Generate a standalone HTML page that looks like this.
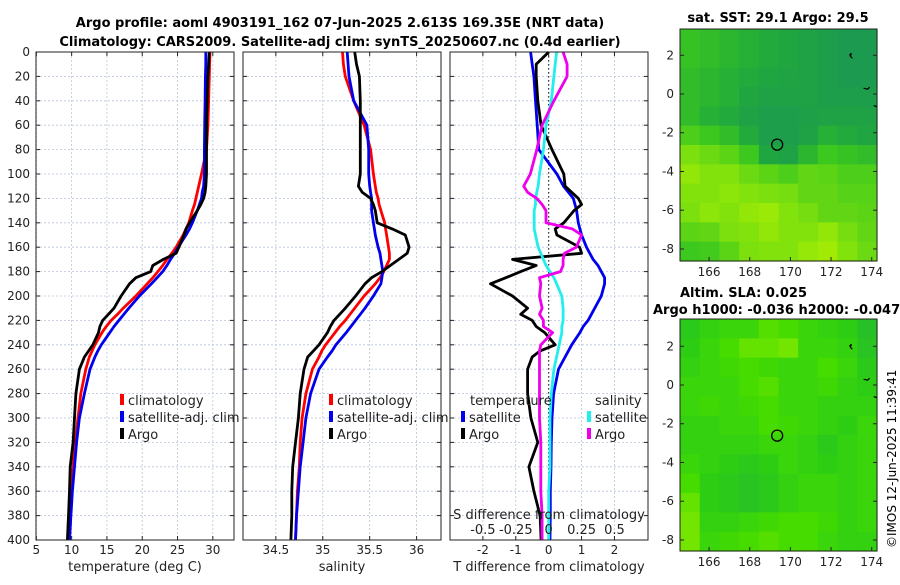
<!DOCTYPE html>
<html><head><meta charset="utf-8"><style>
body{margin:0;background:#fff}
svg{font-family:"DejaVu Sans","Liberation Sans",sans-serif}
</style></head><body>
<svg id="s" width="900" height="580" viewBox="0 0 900 580" xmlns="http://www.w3.org/2000/svg">
<text x="340" y="27" font-size="13" font-weight="bold" text-anchor="middle">Argo profile: aoml 4903191_162 07-Jun-2025 2.613S 169.35E (NRT data)</text>
<text x="340" y="46" font-size="13" font-weight="bold" text-anchor="middle">Climatology: CARS2009. Satellite-adj clim: synTS_20250607.nc (0.4d earlier)</text>
<text x="778" y="22" font-size="13" font-weight="bold" text-anchor="middle">sat. SST: 29.1 Argo: 29.5</text>
<text x="680" y="297" font-size="13" font-weight="bold">Altim. SLA: 0.025</text>
<text x="653" y="314" font-size="13" font-weight="bold">Argo h1000: -0.036 h2000: -0.047</text>
<text x="0" y="0" font-size="12" transform="translate(896,548) rotate(-90)">©IMOS 12-Jun-2025 11:39:41</text>
</svg>
<script>
// depth levels
const depths=[0,10,20,40,60,80,100,110,115,120,125,130,140,145,150,160,165,170,175,180,185,190,200,210,215,220,225,230,240,245,250,260,280,300,320,340,360,380,400];
// panel 1 temperature
const tClim=[29.6,29.55,29.5,29.4,29.3,29.1,28.4,28.0,27.8,27.6,27.4,27.1,26.6,26.2,25.8,24.8,24.2,23.5,22.9,22.2,21.5,20.7,19.1,17.3,16.5,15.6,14.9,14.3,13.3,12.9,12.5,12.0,11.3,10.9,10.5,10.2,10.0,9.85,9.7];
const tSat=[29.0,29.0,28.95,28.9,28.85,28.8,28.8,28.7,28.5,28.4,28.1,27.8,27.1,26.7,26.2,25.1,24.6,24.0,23.5,22.9,22.1,21.3,19.6,18.1,17.4,16.7,16.0,15.4,14.2,13.7,13.3,12.6,11.8,11.1,10.7,10.4,10.1,9.9,9.7];
const tArgo=[29.5,29.4,29.3,29.2,29.1,29.1,29.1,29.0,28.9,28.7,28.3,27.8,26.7,26.2,25.9,25.2,24.8,23.0,21.5,21.2,19.1,18.2,17.0,16.0,15.2,14.4,14.0,13.8,13.0,12.4,11.8,11.1,10.6,10.4,10.2,9.8,9.7,9.55,9.4];
// panel 2 salinity
const sClim=[35.21,35.22,35.24,35.33,35.44,35.51,35.54,35.56,35.57,35.59,35.6,35.62,35.66,35.67,35.68,35.7,35.71,35.71,35.68,35.65,35.61,35.56,35.44,35.34,35.29,35.24,35.18,35.13,35.03,34.99,34.96,34.89,34.82,34.78,34.76,34.75,34.73,34.72,34.71];
const sSat=[35.26,35.27,35.28,35.33,35.47,35.49,35.49,35.5,35.51,35.52,35.52,35.52,35.54,35.55,35.56,35.59,35.61,35.62,35.63,35.64,35.63,35.62,35.54,35.45,35.4,35.35,35.3,35.25,35.14,35.1,35.05,34.96,34.87,34.82,34.79,34.76,34.74,34.72,34.71];
const sArgo=[35.34,35.36,35.39,35.4,35.4,35.4,35.4,35.38,35.42,35.51,35.54,35.56,35.58,35.74,35.88,35.92,35.9,35.81,35.72,35.63,35.52,35.45,35.35,35.24,35.18,35.12,35.08,35.05,34.96,34.9,34.84,34.8,34.76,34.74,34.71,34.68,34.67,34.67,34.66];
// panel 3 differences
const dTSat=[-0.55,-0.5,-0.45,-0.4,-0.35,-0.3,0.25,0.45,0.6,0.75,0.8,0.85,0.9,0.95,1.0,1.15,1.25,1.35,1.5,1.6,1.7,1.7,1.6,1.4,1.3,1.2,1.05,0.95,0.7,0.6,0.5,0.3,0.15,0.1,0.08,0.07,0.05,0.05,0.04];
const dTArgo=[0,-0.38,-0.38,-0.33,-0.23,0.1,0.46,0.5,0.7,0.9,1.0,0.77,0.46,0.2,0.25,0.94,1.0,-1.1,-0.38,-0.85,-1.3,-1.77,-1.1,-0.64,-0.85,-0.5,-0.38,-0.12,0.2,-0.26,-0.5,-0.64,-0.64,-0.54,-0.33,-0.6,-0.45,-0.26,-0.23];
const dSSat=[0.06,0.05,0.04,0.02,-0.02,-0.04,-0.07,-0.08,-0.09,-0.1,-0.1,-0.11,-0.11,-0.11,-0.1,-0.08,-0.06,-0.04,-0.02,0.01,0.04,0.06,0.1,0.11,0.11,0.11,0.1,0.1,0.08,0.07,0.06,0.04,0.02,0.01,0.01,0.01,0.0,0.0,0.0];
const dSArgo=[0.11,0.14,0.14,0.04,-0.05,-0.09,-0.14,-0.19,-0.16,-0.09,-0.05,-0.02,-0.02,0.18,0.25,0.21,0.12,0.11,0.11,0.09,-0.07,-0.06,-0.07,-0.05,-0.07,-0.04,-0.04,0.03,-0.06,-0.07,-0.07,-0.07,-0.07,-0.07,-0.06,-0.06,-0.06,-0.05,-0.05];
const depthTicks=[0,20,40,60,80,100,120,140,160,180,200,220,240,260,280,300,320,340,360,380,400];
const tTicks=[5,10,15,20,25,30];
const sTicks=[34.5,35,35.5,36];
const dTTicks=[-2,-1,0,1,2];
const dSTickLabels=["-0.5","-0.25","0","0.25","0.5"];
const dSTicks=[-0.5,-0.25,0,0.25,0.5];
// maps (rows top->bottom, cols left->right), 0=dark teal, 1=yellow-green
const sstGrid=[
[.45,.4,.35,.3,.25,.2,.15,.1,.05,.05],
[.45,.4,.35,.3,.25,.2,.15,.1,.05,.05],
[.4,.35,.3,.25,.2,.18,.15,.1,.05,.05],
[.4,.35,.3,.2,.15,.15,.15,.1,.1,.1],
[.4,.3,.25,.15,.1,.1,.12,.15,.15,.15],
[.55,.5,.4,.25,.1,.1,.15,.3,.25,.2],
[.7,.65,.6,.5,.2,.15,.35,.5,.45,.4],
[.78,.72,.72,.65,.6,.55,.62,.6,.55,.55],
[.72,.72,.75,.72,.7,.68,.62,.62,.58,.58],
[.7,.75,.72,.78,.82,.72,.68,.62,.62,.6],
[.6,.62,.7,.72,.78,.72,.72,.78,.68,.62],
[.5,.52,.6,.7,.72,.72,.8,.85,.72,.65]];
const slaGrid=[
[.35,.45,.5,.5,.65,.6,.5,.45,.4,.25],
[.4,.5,.6,.7,.7,.75,.5,.5,.45,.3],
[.45,.5,.55,.6,.55,.5,.5,.6,.5,.35],
[.5,.5,.5,.6,.65,.5,.5,.55,.45,.4],
[.5,.55,.5,.55,.6,.5,.5,.45,.45,.45],
[.45,.45,.5,.5,.6,.55,.5,.45,.4,.5],
[.45,.45,.45,.45,.5,.5,.45,.35,.45,.5],
[.5,.45,.4,.35,.4,.5,.45,.4,.45,.5],
[.6,.4,.35,.3,.35,.45,.5,.5,.45,.5],
[.7,.4,.35,.3,.35,.45,.5,.5,.45,.5],
[.75,.45,.45,.5,.55,.6,.6,.55,.45,.5],
[.75,.5,.55,.6,.65,.6,.6,.5,.45,.45]];
const latTicks=[2,0,-2,-4,-6,-8];
const lonTicks=[166,168,170,172,174];

const svg=document.getElementById('s');
const NS='http://www.w3.org/2000/svg';
function mk(tag,at,par){const e=document.createElementNS(NS,tag);for(const k in at)e.setAttribute(k,at[k]);(par||svg).appendChild(e);return e;}
const Y0=52,Y1=540;
const yD=d=>Y0+(d/400)*(Y1-Y0);
const panels=[
 {name:'temperature-panel',x0:36,x1:234,lo:4.95,hi:33.0},
 {name:'salinity-panel',x0:243,x1:441,lo:34.15,hi:36.26},
 {name:'difference-panel',x0:450,x1:648,lo:-3.0,hi:3.02}];
function xf(p){return v=>p.x0+(v-p.lo)/(p.hi-p.lo)*(p.x1-p.x0);}
function grid(p,ticks){
 const g=mk('g',{});
 
 
 const X=xf(p);
 depthTicks.forEach(d=>{const l=mk('line',{x1:p.x0,x2:p.x1,y1:yD(d),y2:yD(d),stroke:'#b8c4dc','stroke-width':0.8,'stroke-dasharray':'2,2'},g);
  
  mk('line',{x1:p.x0,x2:p.x0+4,y1:yD(d),y2:yD(d),stroke:'#222'},g);mk('line',{x1:p.x1-4,x2:p.x1,y1:yD(d),y2:yD(d),stroke:'#222'},g);});
 ticks.forEach(t=>{const l=mk('line',{x1:X(t),x2:X(t),y1:Y0,y2:Y1,stroke:'#b8c4dc','stroke-width':0.8,'stroke-dasharray':'2,2'},g);
  
  mk('line',{x1:X(t),x2:X(t),y1:Y1-4,y2:Y1,stroke:'#222'},g);mk('line',{x1:X(t),x2:X(t),y1:Y0,y2:Y0+4,stroke:'#222'},g);
  const tx=mk('text',{x:X(t),y:554,'font-size':12,'text-anchor':'middle',fill:'#222'},g);tx.textContent=String(t);
  });
}
function box(p){const r=mk('rect',{x:p.x0,y:Y0,width:p.x1-p.x0,height:Y1-Y0,fill:'none',stroke:'#222','stroke-width':1});
 }
function line(p,vals,col,name,xfn){const X=xfn||xf(p);
 const pts=vals.map((v,i)=>X(v).toFixed(1)+','+yD(depths[i]).toFixed(1)).join(' ');
 const e=mk('polyline',{points:pts,fill:'none',stroke:col,'stroke-width':2.8,'stroke-linejoin':'round'});
 }
function txt(x,y,s,name,extra){const t=mk('text',Object.assign({x:x,y:y,'font-size':13,fill:'#222'},extra||{}));t.textContent=s;
 return t;}
function legend(x,y,col,s){const l=mk('line',{x1:x,x2:x,y1:y-11,y2:y,stroke:col,'stroke-width':4});
 
 txt(x+6,y,s,'legend-entry');}

grid(panels[0],tTicks);grid(panels[1],sTicks);grid(panels[2],dTTicks);
depthTicks.forEach(d=>txt(30,yD(d)+4,String(d),'y-tick-label',{'text-anchor':'end','font-size':12}));
const X3=xf(panels[2]);
const zl=mk('line',{x1:X3(0),x2:X3(0),y1:Y0,y2:Y1,stroke:'#333','stroke-width':1.2,'stroke-dasharray':'1.5,2.5'});

line(panels[0],tClim,'#ff0000','temperature-climatology-line');
line(panels[0],tSat,'#0000ee','temperature-satellite-line');
line(panels[0],tArgo,'#000','temperature-argo-line');
line(panels[1],sClim,'#ff0000','salinity-climatology-line');
line(panels[1],sSat,'#0000ee','salinity-satellite-line');
line(panels[1],sArgo,'#000','salinity-argo-line');
const XS=v=>X3(0)+v*4*(X3(1)-X3(0));
line(panels[2],dTSat,'#0000ee','t-diff-satellite-line');
line(panels[2],dTArgo,'#000','t-diff-argo-line');
line(panels[2],dSSat,'#22eeee','s-diff-satellite-line',XS);
line(panels[2],dSArgo,'#ee00ee','s-diff-argo-line',XS);
panels.forEach(box);
dSTicks.forEach((v,i)=>txt(XS(v),534,dSTickLabels[i],'s-tick-label',{'text-anchor':'middle'}));
txt(549,519,'S difference from climatology','s-axis-title',{'text-anchor':'middle'});
legend(122,405,'#ff0000','climatology');legend(122,422,'#0000ee','satellite-adj. clim');legend(122,439,'#000','Argo');
legend(331,405,'#ff0000','climatology');legend(331,422,'#0000ee','satellite-adj. clim');legend(331,439,'#000','Argo');
txt(470,405,'temperature','legend-title-temperature');txt(595,405,'salinity','legend-title-salinity');
legend(463,422,'#0000ee','satellite');legend(463,439,'#000','Argo');
legend(589,422,'#22eeee','satellite');legend(589,439,'#ee00ee','Argo');
txt(135,571,'temperature (deg C)','x-axis-title-temperature',{'text-anchor':'middle'});
txt(342,571,'salinity','x-axis-title-salinity',{'text-anchor':'middle'});
txt(549,571,'T difference from climatology','x-axis-title-tdiff',{'text-anchor':'middle'});

function lerp(a,b,t){return a+(b-a)*t;}
function cmap(v,stops){for(let i=1;i<stops.length;i++){if(v<=stops[i][0]||i===stops.length-1){const a=stops[i-1],b=stops[i];const t=Math.max(0,Math.min(1,(v-a[0])/(b[0]-a[0])));
 return 'rgb('+[1,2,3].map(k=>Math.round(lerp(a[k],b[k],t))).join(',')+')';}}}
const sstStops=[[0,26,150,85],[0.25,34,170,60],[0.5,60,200,30],[0.75,140,230,10],[1,190,240,0]];
const slaStops=[[0,30,170,70],[0.4,45,205,20],[0.6,70,220,0],[0.8,130,232,0],[1,170,240,0]];
const mx0=680,mx1=877,lon0=164.57,lon1=174.26;
const lonX=l=>mx0+(l-lon0)/(lon1-lon0)*(mx1-mx0);
function drawMap(gridv,stops,top,bot,zeroY,name){
 const g=mk('g',{});
 const rows=gridv.length,cols=gridv[0].length,cw=(mx1-mx0)/cols,ch=(bot-top)/rows;
 gridv.forEach((r,i)=>r.forEach((v,j)=>{const c=mk('rect',{x:mx0+j*cw,y:top+i*ch,width:cw+0.6,height:ch+0.6,fill:cmap(v,stops)},g);
  }));
 const pxDeg=19.37;const latY=l=>zeroY-l*pxDeg;
 mk('rect',{x:mx0,y:top,width:mx1-mx0,height:bot-top,fill:'none',stroke:'#222'},g);
 latTicks.forEach(l=>{mk('line',{x1:mx0,x2:mx0+4,y1:latY(l),y2:latY(l),stroke:'#222'},g);mk('line',{x1:mx1-4,x2:mx1,y1:latY(l),y2:latY(l),stroke:'#222'},g);
  txt(674,latY(l)+4,String(l),'map-lat-label',{'text-anchor':'end','font-size':12});});
 lonTicks.forEach(l=>{mk('line',{x1:lonX(l),x2:lonX(l),y1:bot-4,y2:bot,stroke:'#222'},g);
  txt(lonX(l),bot+15,String(l),'map-lon-label',{'text-anchor':'middle','font-size':12});});
 const c=mk('circle',{cx:lonX(169.35),cy:latY(-2.613),r:5.5,fill:'none',stroke:'#000','stroke-width':1.3},g);
 
 mk('path',{d:`M${lonX(172.9)},${latY(2)} l2,-2 l-1,3 l2,2 M${lonX(173.6)},${latY(0.3)} l4,1 l2,-2 M${lonX(174.1)},${latY(-0.6)} l3,1`,stroke:'#000','stroke-width':1.2,fill:'none'},g);
}
drawMap(sstGrid,sstStops,29,261,94,'sst-map');
drawMap(slaGrid,slaStops,319,551,385,'sla-map');
</script>
</body></html>
